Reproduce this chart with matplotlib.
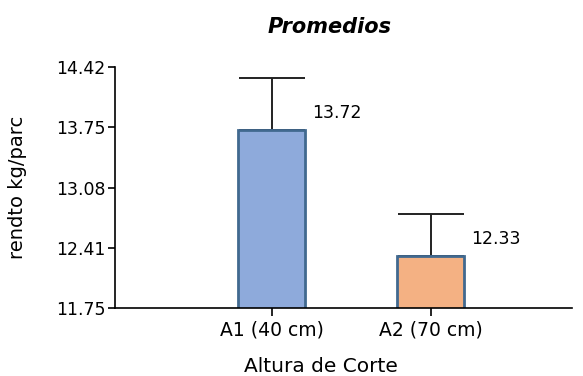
import matplotlib
matplotlib.use("Agg")
import matplotlib.pyplot as plt
import numpy as np

# Datos: promedio de rendimiento por altura de corte
categorias = ["A1 (40 cm)", "A2 (70 cm)"]
promedios = [13.72, 12.33]
errores = [0.58, 0.46]
yticks = [11.75, 12.41, 13.08, 13.75, 14.42]

plt.rcParams['font.family'] = ['DejaVu Sans']

fig = plt.figure(figsize=(5.83, 3.76), dpi=100)
ax = fig.add_axes([0.197, 0.181, 0.784, 0.641])

x = np.arange(len(categorias))
colores = ["#8eaadb", "#f4b183"]
ancho = 0.42
ax.bar(x, promedios, width=ancho, bottom=0, color=colores,
       edgecolor="#41698f", linewidth=2, zorder=2)
ax.errorbar(x, promedios, yerr=[np.zeros(len(errores)), errores], fmt="none",
            ecolor="#222222", elinewidth=1.4, capsize=24, capthick=1.4, zorder=1)

for xi, v in zip(x, promedios):
    ax.annotate(f"{v:.2f}", (xi + ancho / 2, v), xytext=(5, 12),
                textcoords="offset points", ha="left", va="center", fontsize=12.5)

ax.set_ylim(11.75, 14.42)
ax.set_xlim(-0.987, 1.887)
ax.set_yticks(yticks)
ax.set_yticklabels([f"{t:.2f}" for t in yticks], fontsize=12.5)
ax.set_xticks(x)
ax.set_xticklabels(categorias, fontsize=13.5)
ax.tick_params(axis="y", length=5, width=1.2, pad=2)
ax.tick_params(axis="x", length=6, width=1.2, pad=3)

for s in ["top", "right"]:
    ax.spines[s].set_visible(False)
for s in ["left", "bottom"]:
    ax.spines[s].set_linewidth(1.2)

fig.text(0.566, 0.928, "Promedios", fontsize=15, fontweight="bold",
         style="italic", ha="center", va="center")
ax.set_xlabel("Altura de Corte", fontsize=14.5)
ax.xaxis.set_label_coords(0.45, -0.245)
ax.set_ylabel("rendto kg/parc", fontsize=14)
ax.yaxis.set_label_coords(-0.212, 0.5)
ax.xaxis.label.set_va("center")
ax.yaxis.label.set_va("center")

fig.savefig("out.png", dpi=100)
